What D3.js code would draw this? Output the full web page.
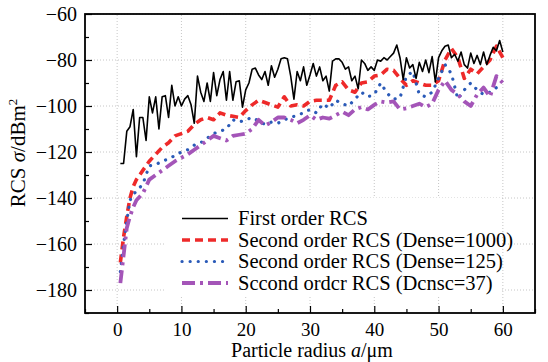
<!DOCTYPE html>
<html>
<head>
<meta charset="utf-8">
<script src="https://cdn.jsdelivr.net/npm/d3@7"></script>
<style>
  body { margin: 0; background: #fff; }
  svg { display: block; }
  svg text { font-family: "Liberation Serif", "DejaVu Serif", "Times New Roman", serif; }
</style>
</head>
<body>
<svg id="chart" width="548" height="362"></svg>
<script>
// first order RCS, radius 0.5 .. 60 step 0.5
const radius = d3.range(1, 121).map(i => i * 0.5);
const firstOrder = [
  -125, -125, -111, -109, -101.5, -122, -105, -105, -115, -96,
  -103, -96, -110, -96, -95.5, -105, -91, -100, -96, -100,
  -97, -95.5, -99.5, -107.5, -87, -94, -98, -90, -98, -85.5,
  -95.5, -88.5, -85, -97.5, -85, -97.5, -89.5, -89, -100.5, -93,
  -90, -84, -83.5, -86.5, -88.5, -85, -91, -82.5, -87.5, -84,
  -79.5, -79, -79.5, -87, -97, -85, -89, -83, -91, -86.5,
  -81.5, -87, -83, -89, -87, -93.5, -80.5, -79.5, -79.5, -81,
  -84, -83, -89, -87, -92.5, -80, -81.5, -84.5, -83, -84.5,
  -80, -80.5, -79, -80, -78.5, -77, -73.5, -79, -88.5, -79,
  -83.5, -82, -88, -81, -85, -80, -85.5, -78.5, -89.5, -79,
  -76, -74, -73.5, -79, -77.5, -80.5, -76.5, -82, -83.5, -77,
  -81.5, -78, -82, -76.5, -82, -78, -74.5, -76, -71.5, -76.5
];

// second order RCS, radius grid
const radius2 = [0.5, 1, 1.5, 2, 2.5, 3].concat(d3.range(4, 61));
const dense1000 = [
  -168, -157, -148, -140, -135, -132,
  -128, -124, -121, -118, -116, -113, -112, -111, -108, -106,
  -105, -106, -103, -104, -104.5, -105, -102, -99.5, -97.5, -98.5,
  -99.5, -100.5, -96, -100, -99.5, -100, -98, -97.5, -97.5, -97.5,
  -91, -89.5, -93, -94, -90, -89.5, -87, -86.5, -84, -84.5,
  -88, -91, -89, -90, -91, -91, -89, -80, -75, -79,
  -88, -84, -86, -83, -80, -74, -79
];
const dense125 = [
  -172, -160, -150, -141, -138.5, -137,
  -134, -126, -125.5, -124, -123, -121.5, -120, -119, -117, -116,
  -114, -112, -111, -110, -106, -107, -106, -105, -106.5, -108,
  -107, -107.5, -106, -105, -104, -103, -101.5, -103, -99, -101,
  -97.5, -99, -100, -97, -94, -96, -95, -90, -94.5, -97,
  -96.5, -87, -85, -95, -96, -94, -88, -82, -86, -97,
  -93, -90, -93, -95, -94, -92, -93
];
const dense37 = [
  -177, -165, -153, -148, -144, -141,
  -138, -132, -130, -128, -126, -124, -122.5, -121, -119, -117,
  -115, -113, -114, -115, -113, -112.5, -112, -110, -106, -108.5,
  -107, -105, -105, -106, -107.5, -106, -104, -106, -105, -105.5,
  -104, -102.5, -104, -101.5, -100.5, -101.5, -99.5, -98, -98.5, -98,
  -101.5, -101, -100, -99, -100.5, -99, -93, -89, -93, -95,
  -98, -100, -95, -92, -96, -87, -90
];

const legendLabels = [
  'First order RCS',
  'Second order RCS (Dense=1000)',
  'Second order RCS (Dense=125)',
  'Sccond ordcr RCS (Dcnsc=37)'
];
const xTicks = [0, 10, 20, 30, 40, 50, 60];
const xMinor = [-5, 5, 15, 25, 35, 45, 55, 65];
const yTicks = [-60, -80, -100, -120, -140, -160, -180];
const yMinor = [-70, -90, -110, -130, -150, -170, -190];

const MARGINS = { top: 14, bottom: 49, left: 85, right: 13 };
const W = 548, H = 362;
const FONT = '"Liberation Serif", "DejaVu Serif", serif';

const svg = d3.select('#chart');
const x = d3.scaleLinear().domain([-5, 65]).range([MARGINS.left, W - MARGINS.right]);
const y = d3.scaleLinear().domain([-190, -60]).range([H - MARGINS.bottom, MARGINS.top]);

// grid
const grid = svg.append('g').attr('class', 'grid')
  .attr('stroke', '#b8b8b8').attr('stroke-width', 0.8).attr('stroke-dasharray', '1,2');
grid.selectAll('.gx').data(xTicks).join('line')
  .attr('x1', d => x(d)).attr('x2', d => x(d))
  .attr('y1', y.range()[0]).attr('y2', y.range()[1]);
grid.selectAll('.gy').data(yTicks).join('line')
  .attr('class', 'gy')
  .attr('x1', x.range()[0]).attr('x2', x.range()[1])
  .attr('y1', d => y(d)).attr('y2', d => y(d));

const series = [
  { name: legendLabels[0], xs: radius, ys: firstOrder, color: '#000', width: 1.6, dash: null, cap: 'butt' },
  { name: legendLabels[1], xs: radius2, ys: dense1000, color: '#ee2a2a', width: 3.6, dash: '8,5', cap: 'butt' },
  { name: legendLabels[2], xs: radius2, ys: dense125, color: '#2a5ab8', width: 3.2, dash: '0.1,8', cap: 'round' },
  { name: legendLabels[3], xs: radius2, ys: dense37, color: '#a455b8', width: 3.8, dash: '13,5,3,5', cap: 'butt' }
];

const line = d3.line().x(d => x(d[0])).y(d => y(d[1]));

// draw so black line ends on top
[1, 2, 3, 0].forEach(i => {
  const s = series[i];
  svg.append('path')
    .datum(s.xs.map((v, k) => [v, s.ys[k]]))
    .attr('fill', 'none')
    .attr('stroke', s.color)
    .attr('stroke-width', s.width)
    .attr('stroke-dasharray', s.dash)
    .attr('stroke-linecap', s.cap)
    .attr('stroke-linejoin', 'round')
    .attr('d', line);
});

// legend
const lg = svg.append('g').attr('class', 'legend');
lg.append('rect')
  .attr('x', 165).attr('y', 198).attr('width', 337).attr('height', 98)
  .attr('fill', '#fff');
const rows = lg.selectAll('.row').data(series).join('g')
  .attr('class', 'row')
  .attr('transform', (d, i) => `translate(182, ${218.5 + i * 21.5})`);
rows.append('line')
  .attr('x1', 0).attr('x2', 46)
  .attr('stroke', d => d.color)
  .attr('stroke-width', d => d.width)
  .attr('stroke-dasharray', d => d.dash)
  .attr('stroke-linecap', d => d.cap);
rows.append('text')
  .attr('x', 56).attr('dy', '0.33em')
  .attr('font-family', FONT)
  .attr('font-size', 20.5)
  .text(d => d.name);

// axes
const axisX = svg.append('g')
  .attr('transform', `translate(0, ${y.range()[0]})`)
  .call(d3.axisBottom(x).tickValues(xTicks).tickSize(-7).tickPadding(10).tickFormat(d3.format('d')));
const axisXMinor = svg.append('g')
  .attr('transform', `translate(0, ${y.range()[0]})`)
  .call(d3.axisBottom(x).tickValues(xMinor).tickSize(-4).tickFormat(''));
const axisY = svg.append('g')
  .attr('transform', `translate(${x.range()[0]}, 0)`)
  .call(d3.axisLeft(y).tickValues(yTicks).tickSize(-7).tickPadding(8));
const axisYMinor = svg.append('g')
  .attr('transform', `translate(${x.range()[0]}, 0)`)
  .call(d3.axisLeft(y).tickValues(yMinor).tickSize(-4).tickFormat(''));

[axisX, axisXMinor, axisY, axisYMinor].forEach(a => {
  a.attr('font-family', FONT);
  a.select('.domain').remove();
  a.selectAll('line').attr('stroke', '#000').attr('stroke-width', 1.2);
  a.selectAll('text').attr('font-family', FONT).attr('font-size', 20).attr('fill', '#000');
});
axisX.selectAll('text').attr('font-size', 19);

// frame
svg.append('rect')
  .attr('x', x.range()[0]).attr('y', y.range()[1])
  .attr('width', x.range()[1] - x.range()[0])
  .attr('height', y.range()[0] - y.range()[1])
  .attr('fill', 'none').attr('stroke', '#000').attr('stroke-width', 1.8);

// axis titles
const xTitle = svg.append('text')
  .attr('x', (x.range()[0] + x.range()[1]) / 2 + 2).attr('y', 357)
  .attr('font-family', FONT)
  .attr('text-anchor', 'middle').attr('font-size', 20);
xTitle.append('tspan').text('Particle radius ');
xTitle.append('tspan').attr('font-style', 'italic').text('a');
xTitle.append('tspan').text('/μm');

const yTitle = svg.append('text')
  .attr('transform', 'translate(25, 153) rotate(-90)')
  .attr('font-family', FONT)
  .attr('text-anchor', 'middle').attr('font-size', 21);
yTitle.append('tspan').text('RCS ');
yTitle.append('tspan').attr('font-style', 'italic').text('σ');
yTitle.append('tspan').text('/dBm');
yTitle.append('tspan').attr('font-size', 13).attr('dy', '-0.6em').text('2');
</script>
</body>
</html>
